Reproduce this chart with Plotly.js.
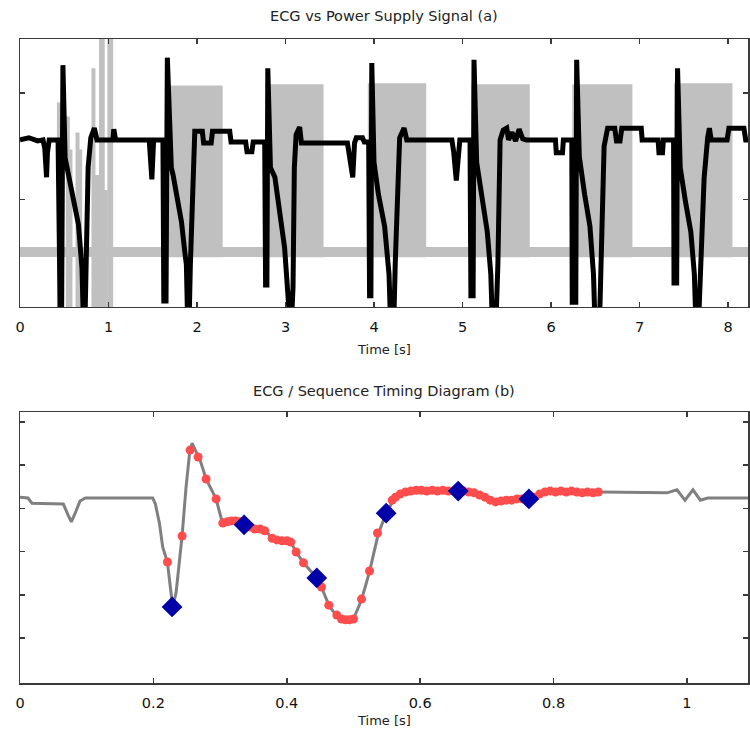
<!DOCTYPE html>
<html>
<head>
<meta charset="utf-8">
<script src="https://cdn.plot.ly/plotly-3.0.1.min.js"></script>
<style>html,body{margin:0;padding:0;background:#fff;}#chart{width:750px;height:735px;}</style>
</head>
<body>
<div id="chart"></div>
<script>
// ---------- Panel (a): ECG vs power supply ----------
const topEcgT = [0.00,0.10,0.20,0.26,0.28,0.30,0.31,0.33,0.43,0.445,0.455,0.47,0.485,0.51,0.60,0.66,0.70,0.715,0.735,0.748,0.77,0.80,0.84,0.87,1.05,1.06,1.08,1.46,1.475,1.49,1.51,
  1.615,1.625,1.65,1.665,1.71,1.73,1.825,1.862,1.88,1.893,1.912,1.925,1.94,1.956,1.975,2.06,2.075,2.16,2.175,2.37,2.385,2.55,2.565,2.62,2.635,
  2.765,2.775,2.79,2.80,2.83,2.88,2.99,3.03,3.045,3.07,3.085,3.10,3.12,3.16,3.18,3.70,3.72,3.76,3.78,3.80,3.87,3.89,
  3.94,3.95,3.965,3.975,4.00,4.05,4.12,4.17,4.185,4.225,4.24,4.27,4.29,4.34,4.37,4.88,4.90,4.93,4.955,4.97,
  5.085,5.095,5.12,5.13,5.16,5.21,5.28,5.32,5.335,5.38,5.40,5.425,5.46,5.50,5.52,5.56,5.60,5.64,5.68,5.72,6.05,6.06,6.13,6.14,
  6.235,6.24,6.28,6.29,6.32,6.38,6.44,6.48,6.495,6.55,6.565,6.60,6.64,6.72,6.74,6.78,6.80,7.02,7.03,7.21,7.22,7.26,7.27,
  7.385,7.39,7.42,7.43,7.46,7.52,7.58,7.62,7.635,7.67,7.685,7.73,7.77,7.79,7.81,7.99,8.01,8.18,8.20,8.23];
const topEcgV = [1.56,1.58,1.55,1.56,1.48,1.21,1.44,1.56,1.56,0.9,-0.1,-0.1,2.26,1.39,0.98,0.77,0.36,-0.1,-0.1,0.67,1.30,1.58,1.67,1.56,1.56,1.66,1.56,1.56,1.40,1.19,1.56,
  1.56,0.05,0.05,2.33,1.30,1.23,0.79,0.51,0.39,-0.1,-0.1,0.39,0.79,1.51,1.64,1.64,1.53,1.53,1.64,1.64,1.54,1.54,1.45,1.45,1.54,
  1.54,0.2,0.2,2.23,1.30,1.21,0.55,0.18,-0.1,-0.1,0.18,1.30,1.61,1.68,1.53,1.53,1.40,1.21,1.53,1.58,1.58,1.54,
  1.54,0.1,0.1,2.28,1.35,1.05,0.75,0.3,-0.1,-0.1,0.4,1.25,1.58,1.67,1.56,1.56,1.45,1.18,1.45,1.56,
  1.56,0.1,0.1,2.31,1.35,1.05,0.7,0.3,-0.1,-0.1,0.4,1.56,1.65,1.67,1.56,1.63,1.55,1.66,1.57,1.56,1.56,1.44,1.44,1.56,
  1.56,0.04,0.04,2.31,1.40,1.05,0.75,0.3,-0.1,-0.1,0.4,1.50,1.67,1.67,1.55,1.55,1.67,1.67,1.56,1.56,1.44,1.44,1.56,
  1.56,0.22,0.22,2.23,1.30,0.98,0.7,0.3,-0.1,-0.1,0.3,1.2,1.58,1.67,1.56,1.56,1.67,1.67,1.56,1.56];

// power supply: idle level band, bursts of switching, and irregular spikes at start
const supplyIdleT = [0, 8.23];
const supplyIdleV = [0.51, 0.51];
const burstStart = [1.64, 2.79, 3.93, 5.10, 6.24, 7.39];
const burstEnd   = [2.29, 3.43, 4.59, 5.76, 6.92, 8.05];
const burstHigh  = [2.07, 2.08, 2.09, 2.08, 2.08, 2.09];
const burstLow   = [0.46, 0.46, 0.46, 0.46, 0.46, 0.46];
const spikeT   = [0.44, 0.46, 0.54, 0.57, 0.65, 0.68, 0.83, 0.87, 0.915, 0.935, 0.97, 1.01, 1.03];
const spikeTop = [1.91, 1.70, 1.78, 1.47, 1.63, 1.47, 2.23, 1.23, 2.6, 2.6, 1.09, 2.6, 2.6];
const spikeBottom = -0.1;

// ---------- Panel (b): single ECG beat with sequence timing ----------
const beatT = [0.000,0.012,0.018,0.065,0.072,0.077,0.083,0.090,0.098,0.199,0.203,0.209,0.214,0.221,0.226,0.229,0.234,0.243,0.249,0.254,0.258,0.264,0.270,0.279,0.294,0.302,0.310,0.330,0.345,0.367,0.380,0.406,0.414,0.425,0.445,0.452,0.463,0.475,0.488,0.500,0.512,0.524,0.537,0.549,0.560,0.575,0.600,0.657,0.690,0.713,0.740,0.763,0.785,0.870,0.970,0.985,0.997,1.009,1.020,1.031,1.092];
const beatV = [3.26,3.24,3.12,3.10,2.85,2.69,2.90,3.17,3.24,3.24,3.10,2.66,2.10,1.76,1.10,0.72,1.05,2.36,3.50,4.24,4.51,4.33,4.12,3.68,3.22,2.75,2.69,2.66,2.57,2.48,2.30,2.22,1.99,1.74,1.39,1.18,0.76,0.50,0.42,0.44,0.88,1.53,2.40,2.89,3.19,3.38,3.42,3.40,3.36,3.15,3.19,3.22,3.38,3.38,3.36,3.43,3.19,3.43,3.19,3.24,3.24];
const sampleT = [0.221,0.243,0.255,0.267,0.279,0.294,0.304,0.311,0.317,0.323,0.329,0.345,0.352,0.360,0.367,0.378,0.385,0.393,0.400,0.406,0.414,0.425,0.452,0.463,0.475,0.482,0.488,0.494,0.500,0.512,0.524,0.536,0.558,0.563,0.570,0.578,0.586,0.594,0.602,0.610,0.618,0.626,0.634,0.642,0.650,0.665,0.673,0.681,0.689,0.697,0.705,0.713,0.721,0.729,0.737,0.745,0.753,0.771,0.779,0.787,0.795,0.803,0.811,0.819,0.827,0.835,0.843,0.851,0.859,0.867];
const sampleV = [1.76,2.36,4.35,4.19,3.68,3.22,2.66,2.69,2.71,2.71,2.69,2.57,2.52,2.52,2.48,2.31,2.27,2.25,2.25,2.22,1.99,1.74,1.18,0.76,0.53,0.44,0.42,0.42,0.44,0.90,1.55,2.43,3.19,3.26,3.33,3.38,3.40,3.42,3.42,3.40,3.42,3.40,3.42,3.40,3.40,3.40,3.38,3.36,3.31,3.26,3.19,3.15,3.17,3.19,3.19,3.22,3.22,3.26,3.33,3.38,3.40,3.38,3.40,3.38,3.40,3.38,3.36,3.38,3.36,3.38];
const triggerT = [0.228, 0.336, 0.445, 0.549, 0.657, 0.763];
const triggerV = [0.72, 2.62, 1.39, 2.89, 3.40, 3.22];

// ---------- ticks and labels ----------
const topXTicks = [0,1,2,3,4,5,6,7,8];
const topYTicks = [0,1,2];
const botXTicks = [0,0.2,0.4,0.6,0.8,1];
const botXTickText = ['0','0.2','0.4','0.6','0.8','1'];
const botYTicks = [0,1,2,3,4,5];
const titleA = 'ECG vs Power Supply Signal (a)';
const titleB = 'ECG / Sequence Timing Diagram (b)';
const xTitle = 'Time [s]';

// build helper geometry for the library
const burstX = [], burstY = [];
for (let i = 0; i < burstStart.length; i++) {
  burstX.push(burstStart[i], burstStart[i], burstEnd[i], burstEnd[i], burstStart[i], null);
  burstY.push(burstLow[i], burstHigh[i], burstHigh[i], burstLow[i], burstLow[i], null);
}
const spikeX = [], spikeY = [];
for (let i = 0; i < spikeT.length; i++) {
  spikeX.push(spikeT[i], spikeT[i], null);
  spikeY.push(spikeBottom, spikeTop[i], null);
}

const gray = '#c0c0c0';
const traces = [
  {x: burstX, y: burstY, xaxis:'x', yaxis:'y', type:'scatter', mode:'lines', fill:'toself', fillcolor: gray, line:{width:0, color: gray}, hoverinfo:'skip'},
  {x: supplyIdleT, y: supplyIdleV, xaxis:'x', yaxis:'y', type:'scatter', mode:'lines', line:{color: gray, width:10}},
  {x: spikeX, y: spikeY, xaxis:'x', yaxis:'y', type:'scatter', mode:'lines', line:{color: gray, width:4}},
  {x: topEcgT, y: topEcgV, xaxis:'x', yaxis:'y', type:'scatter', mode:'lines', line:{color:'#000', width:5}},
  {x: beatT, y: beatV, xaxis:'x2', yaxis:'y2', type:'scatter', mode:'lines', line:{color:'#808080', width:3}},
  {x: sampleT, y: sampleV, xaxis:'x2', yaxis:'y2', type:'scatter', mode:'markers', marker:{color:'#ff4d4d', size:9, symbol:'circle'}},
  {x: triggerT, y: triggerV, xaxis:'x2', yaxis:'y2', type:'scatter', mode:'markers', marker:{color:'#0000a8', size:16, symbol:'diamond'}}
];

const axisCommon = {showline:true, mirror:'ticks', linecolor:'#3a3a3a', linewidth:1.5, ticks:'inside', ticklen:5, tickwidth:1.5, tickcolor:'#3a3a3a', showgrid:false, zeroline:false, fixedrange:true};
const tickFont = {family:'DejaVu Sans, sans-serif', size:14.5, color:'#111'};

const layout = {
  width:750, height:735,
  margin:{l:20, r:2, t:39, b:52},
  paper_bgcolor:'#fff', plot_bgcolor:'#fff',
  showlegend:false,
  font:{family:'DejaVu Sans, sans-serif', size:13, color:'#222'},
  xaxis: Object.assign({}, axisCommon, {anchor:'y', domain:[0,1], range:[0, 8.226], tickmode:'array', tickvals: topXTicks, tickfont: tickFont, ticklabelstandoff:6}),
  yaxis: Object.assign({}, axisCommon, {anchor:'x', domain:[0.5839,1], range:[-0.005, 2.505], tickmode:'array', tickvals: topYTicks, showticklabels:false}),
  xaxis2: Object.assign({}, axisCommon, {anchor:'y2', domain:[0,1], range:[0, 1.0915], tickmode:'array', tickvals: botXTicks, ticktext: botXTickText, tickfont: tickFont, ticklabelstandoff:6}),
  yaxis2: Object.assign({}, axisCommon, {anchor:'x2', domain:[0,0.4208], range:[-1.042, 5.231], tickmode:'array', tickvals: botYTicks, showticklabels:false}),
  annotations: [
    {text: titleA, xref:'paper', yref:'paper', x:0.5, y:1.0357, xanchor:'center', yanchor:'middle', showarrow:false, font:{size:14.5, color:'#222'}},
    {text: xTitle, xref:'paper', yref:'paper', x:0.5, y:0.5186, xanchor:'center', yanchor:'middle', showarrow:false, font:{size:13, color:'#222'}},
    {text: titleB, xref:'paper', yref:'paper', x:0.5, y:0.4534, xanchor:'center', yanchor:'middle', showarrow:false, font:{size:14.5, color:'#222'}},
    {text: xTitle, xref:'paper', yref:'paper', x:0.5, y:-0.0575, xanchor:'center', yanchor:'middle', showarrow:false, font:{size:13, color:'#222'}}
  ]
};

Plotly.newPlot('chart', traces, layout, {displayModeBar:false, staticPlot:true});
</script>
</body>
</html>
